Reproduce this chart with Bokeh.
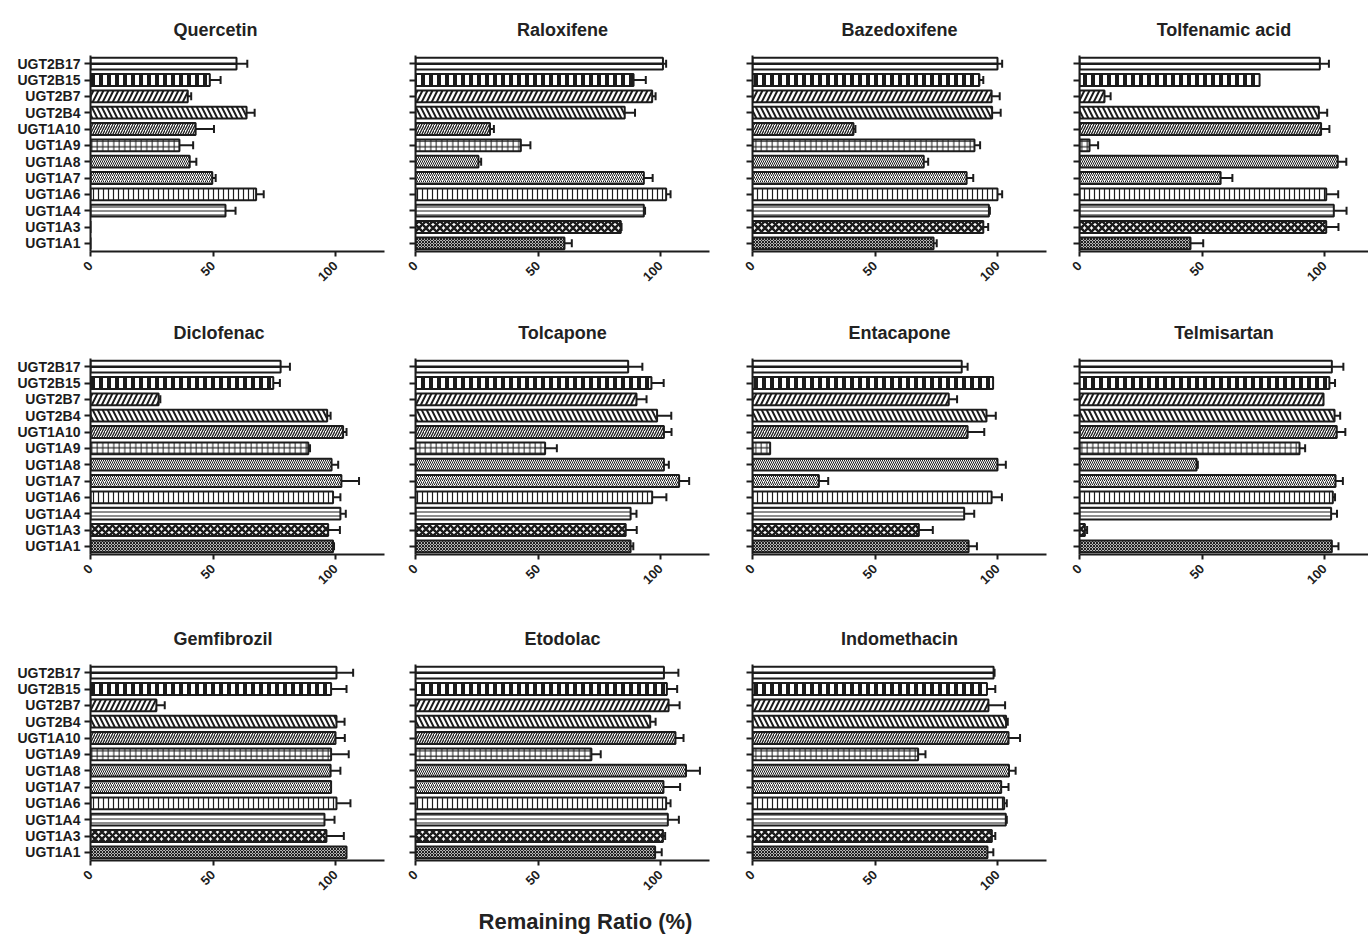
import math
from bokeh.plotting import figure
from bokeh.layouts import column, row
from bokeh.models import (FactorRange, Range1d, Whisker, TeeHead, ColumnDataSource,
                          FixedTicker, Label, CustomLabelingPolicy)
from bokeh.embed import file_html
from bokeh.resources import INLINE

# ---------------- data ----------------
isoforms = ["UGT1A1", "UGT1A3", "UGT1A4", "UGT1A6", "UGT1A7", "UGT1A8",
            "UGT1A9", "UGT1A10", "UGT2B4", "UGT2B7", "UGT2B15", "UGT2B17"]
x_ticks = [0, 50, 100]
drugs = ["Quercetin", "Raloxifene", "Bazedoxifene", "Tolfenamic acid",
         "Diclofenac", "Tolcapone", "Entacapone", "Telmisartan",
         "Gemfibrozil", "Etodolac", "Indomethacin"]
x_title = "Remaining Ratio (%)"

# values ordered UGT1A1 ... UGT2B17 (bottom to top)
quercetin = [0, 0, 55.1, 67.6, 49.7, 40.5, 36.3, 42.9, 63.7, 39.7, 48.7, 59.6]
quercetin_err = [0, 0, 4.1, 3.1, 1.4, 2.7, 5.6, 7.5, 3.3, 1.4, 4.4, 4.4]
raloxifene = [60.8, 83.8, 93.2, 102.3, 93.2, 25.7, 43.0, 30.4, 85.4, 96.6, 89.0, 101.0]
raloxifene_err = [3.0, 0.3, 0.5, 1.8, 3.6, 1.1, 3.9, 1.6, 4.2, 1.4, 5.0, 1.3]
bazedoxifene = [73.9, 94.2, 96.5, 100.0, 87.4, 69.9, 90.6, 41.2, 97.8, 97.6, 92.6, 100.0]
bazedoxifene_err = [1.3, 2.0, 0.4, 1.9, 2.7, 1.8, 2.3, 0.8, 3.5, 3.3, 1.6, 1.9]
tolfenamic = [45.3, 100.7, 103.8, 100.7, 57.6, 105.4, 4.1, 98.6, 97.7, 10.2, 73.5, 98.1]
tolfenamic_err = [5.2, 5.0, 5.2, 4.9, 4.8, 3.5, 3.5, 3.4, 3.4, 2.5, 0, 3.7]
diclofenac = [99.0, 97.0, 102.0, 99.0, 102.4, 98.4, 88.9, 103.1, 96.6, 27.8, 74.6, 77.6]
diclofenac_err = [0.4, 4.8, 2.2, 3.0, 7.2, 2.7, 0.7, 1.4, 1.4, 0.7, 2.7, 3.8]
tolcapone = [87.8, 85.8, 87.8, 96.6, 107.6, 101.4, 52.9, 101.4, 98.6, 90.2, 96.3, 86.8]
tolcapone_err = [1.1, 4.5, 2.4, 5.8, 4.1, 2.0, 4.8, 3.1, 5.8, 4.1, 5.0, 5.8]
entacapone = [88.2, 67.9, 86.4, 97.6, 27.1, 100.0, 7.2, 87.8, 95.5, 80.1, 98.2, 85.4]
entacapone_err = [3.4, 5.7, 4.1, 4.2, 3.8, 3.4, 0, 6.8, 3.8, 3.4, 0, 2.4]
telmisartan = [103.0, 2.2, 102.7, 103.4, 104.5, 47.8, 89.8, 105.0, 104.1, 99.6, 102.0, 103.0]
telmisartan_err = [2.7, 0.9, 2.4, 0.9, 3.0, 0.5, 2.3, 3.5, 2.3, 0, 2.3, 4.7]
gemfibrozil = [104.5, 96.3, 95.5, 100.4, 98.2, 98.0, 98.2, 100.0, 100.4, 26.9, 98.2, 100.4]
gemfibrozil_err = [0, 7.1, 4.1, 5.7, 0, 4.0, 7.2, 3.8, 3.3, 3.4, 6.3, 6.8]
etodolac = [97.8, 101.0, 103.0, 102.3, 101.2, 110.4, 71.8, 106.1, 95.8, 103.3, 102.6, 101.4]
etodolac_err = [2.7, 0.9, 4.5, 1.8, 6.8, 5.7, 3.8, 3.3, 2.2, 4.5, 4.2, 5.9]
indomethacin = [95.9, 97.7, 103.4, 102.7, 101.5, 104.7, 67.6, 104.5, 103.5, 96.3, 95.7, 98.4]
indomethacin_err = [2.4, 1.4, 0.4, 1.1, 3.0, 2.7, 3.0, 4.7, 0.7, 6.8, 3.4, 0.4]

series = [
    (quercetin, quercetin_err), (raloxifene, raloxifene_err),
    (bazedoxifene, bazedoxifene_err), (tolfenamic, tolfenamic_err),
    (diclofenac, diclofenac_err), (tolcapone, tolcapone_err),
    (entacapone, entacapone_err), (telmisartan, telmisartan_err),
    (gemfibrozil, gemfibrozil_err), (etodolac, etodolac_err),
    (indomethacin, indomethacin_err),
]

# ---------------- styles ----------------
FONT = "Liberation Sans"
INK = "#1c1c1c"
# hatch pattern, hatch scale, hatch weight per isoform
hatch_style = {
    "UGT1A1": ("diagonal_cross", 3.0, 1.2),
    "UGT1A3": ("diagonal_cross", 7.0, 2.6),
    "UGT1A4": ("horizontal_line", 4.0, 1.0),
    "UGT1A6": ("vertical_line", 5.0, 1.2),
    "UGT1A7": ("right_diagonal_line", 4.0, 1.0),
    "UGT1A8": ("left_diagonal_line", 4.0, 1.0),
    "UGT1A9": ("cross", 5.5, 1.0),
    "UGT1A10": ("right_diagonal_line", 5.0, 1.3),
    "UGT2B4": ("left_diagonal_line", 10.0, 2.0),
    "UGT2B7": ("right_diagonal_line", 10.0, 2.0),
    "UGT2B15": ("vertical_line", 8.0, 4.0),
    "UGT2B17": ("blank", 10.0, 1.0),
}

FRAME_H = 196
FRAME_W = 294
FRAME_W_LAST = 289
LEFTS = [90, 21, 33, 23]
RIGHTS = [10, 10, 10, 0]
TOPS = [55, 57, 60]
BOTTOMS = [50, 50, 36]
BAR_H = 0.72
TITLE_LEFT_OFFSET = 83  # first-column titles sit left of the frame centre


def make_panel(name, vals, errs, ci, ri):
    last = (ci == 3)
    fw = FRAME_W_LAST if last else FRAME_W
    xmax = 120 * fw / FRAME_W
    p = figure(frame_width=fw, frame_height=FRAME_H,
               y_range=FactorRange(factors=isoforms), x_range=Range1d(0, xmax),
               toolbar_location=None, output_backend="svg",
               min_border_left=LEFTS[ci], min_border_right=RIGHTS[ci],
               min_border_top=TOPS[ri], min_border_bottom=BOTTOMS[ri])
    p.outline_line_color = None
    p.grid.visible = False
    p.background_fill_color = "white"

    src = ColumnDataSource(dict(
        y=isoforms, v=vals,
        pat=[hatch_style[k][0] for k in isoforms],
        sc=[hatch_style[k][1] for k in isoforms],
        wt=[hatch_style[k][2] for k in isoforms],
    ))
    p.hbar(y="y", right="v", left=0, height=BAR_H, source=src,
           fill_color="white", line_color=INK, line_width=2,
           hatch_pattern="pat", hatch_scale="sc", hatch_weight="wt",
           hatch_color=INK)

    # thick centre stripe of UGT2B17 bars
    mid = [(k, v) for k, v in zip(isoforms, vals) if k == "UGT2B17" and v > 0]
    if mid:
        p.hbar(y=[m[0] for m in mid], right=[m[1] for m in mid], left=0,
               height=0.15, fill_color=INK, line_color=None)

    ey = [k for k, v, e in zip(isoforms, vals, errs) if e > 0]
    elo = [v for k, v, e in zip(isoforms, vals, errs) if e > 0]
    ehi = [v + e for k, v, e in zip(isoforms, vals, errs) if e > 0]
    esrc = ColumnDataSource(dict(y=ey, lo=elo, hi=ehi))
    w = Whisker(source=esrc, base="y", lower="lo", upper="hi", dimension="width",
                line_color=INK, line_width=2,
                upper_head=TeeHead(size=8, line_width=2, line_color=INK),
                lower_head=None)
    p.add_layout(w)

    p.title.text = name
    p.title.text_font = FONT
    p.title.text_font_size = "18px"
    p.title.text_font_style = "bold"
    p.title.text_color = "#222222"
    p.title.standoff = 32
    if ci == 0:
        p.title.align = "left"
        p.title.offset = TITLE_LEFT_OFFSET
    else:
        p.title.align = "center"

    xa = p.xaxis[0]
    xa.ticker = FixedTicker(ticks=x_ticks)
    xa.major_label_orientation = math.pi / 4
    xa.major_label_text_font = FONT
    xa.major_label_text_font_style = "bold"
    xa.major_label_text_font_size = "13px"
    xa.major_label_text_color = INK
    xa.axis_line_width = 2
    xa.axis_line_color = INK
    xa.major_tick_line_width = 2
    xa.major_tick_line_color = INK
    xa.major_tick_out = 5
    xa.major_tick_in = 0
    xa.minor_tick_line_color = None
    xa.major_label_standoff = 7

    ya = p.yaxis[0]
    ya.axis_line_width = 2
    ya.axis_line_color = INK
    ya.major_tick_line_width = 2
    ya.major_tick_line_color = INK
    ya.major_tick_out = 6
    ya.major_tick_in = 0
    ya.major_label_text_font = FONT
    ya.major_label_text_font_style = "bold"
    ya.major_label_text_color = INK
    if ci == 0:
        ya.major_label_text_font_size = "14px"
        ya.major_label_standoff = 4
    else:
        ya.major_label_text_font_size = "1px"
        ya.major_label_standoff = 0
        ya.major_label_policy = CustomLabelingPolicy(
            code="for (const i of indices) indices.unset(i)")
    return p


figs = []
for i, (name, (vals, errs)) in enumerate(zip(drugs, series)):
    figs.append(make_panel(name, vals, errs, i % 4, i // 4))

rows = [row(figs[0:4]), row(figs[4:8]), row(figs[8:11])]

lab = figure(width=1368, height=48, x_range=Range1d(0, 1), y_range=Range1d(0, 1),
             toolbar_location=None, output_backend="svg",
             min_border_left=0, min_border_right=0, min_border_top=0, min_border_bottom=0)
lab.axis.visible = False
lab.grid.visible = False
lab.outline_line_color = None
lab.add_layout(Label(x=585, y=24, x_units="screen", y_units="screen", text=x_title,
                     text_align="center", text_baseline="middle",
                     text_font=FONT, text_font_style="bold", text_font_size="22px",
                     text_color="#222222"))

layout = column(rows + [lab])
open("out.html", "w").write(file_html(layout, INLINE))
